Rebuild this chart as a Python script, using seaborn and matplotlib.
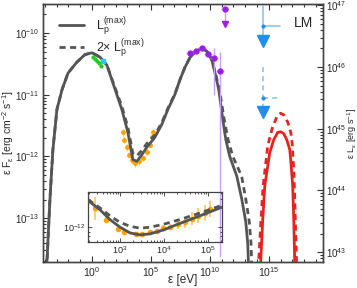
import numpy as np
import pandas as pd
import matplotlib
matplotlib.use("Agg")
import matplotlib.pyplot as plt
from matplotlib.ticker import FixedLocator, NullFormatter, LogLocator
import seaborn as sns

# ---- data (log10 values) ----
# main model curve, solid (L_p max) and dashed (2x L_p max)
model_logE = [-3.95, -3.81, -3.56, -3.31, -2.97, -2.54, -2.03, -1.27, -0.59, 0.0, 0.68, 1.27, 1.78,
              2.54, 3.05, 3.47, 3.81, 4.24, 4.66, 5.34, 5.93, 6.44, 7.03, 7.46, 7.88, 8.31, 8.73,
              9.15, 9.49, 9.83, 10.17, 10.42, 10.76, 11.10, 11.36, 11.69, 12.29, 12.71, 13.05,
              13.22, 13.32]
model_logF = [-14.0, -13.69, -12.69, -11.89, -11.24, -10.92, -10.65, -10.47, -10.35, -10.32, -10.39,
              -10.52, -10.81, -11.24, -11.61, -12.05, -12.08, -11.97, -11.85, -11.69, -11.48, -11.24,
              -11.0, -10.76, -10.56, -10.40, -10.31, -10.26, -10.26, -10.31, -10.44, -10.63, -10.92,
              -11.40, -11.73, -12.0, -12.32, -12.69, -13.06, -13.42, -14.0]
model2_logE = [-3.95, -3.81, -3.56, -3.31, -2.97, -2.54, -2.03, -1.27, -0.59, 0.0, 0.68, 1.27, 1.78,
               2.54, 3.05, 3.47, 3.81, 4.24, 4.66, 5.34, 5.93, 6.44, 7.03, 7.46, 7.88, 8.31, 8.73,
               9.15, 9.49, 9.83, 10.17, 10.45, 10.82, 11.22, 11.55, 11.95, 12.70, 13.05, 13.35,
               13.50, 13.58]
model2_logF = [-14.0, -13.69, -12.69, -11.89, -11.24, -10.92, -10.65, -10.47, -10.35, -10.32, -10.39,
               -10.52, -10.79, -11.19, -11.53, -11.95, -11.99, -11.90, -11.79, -11.65, -11.45, -11.22,
               -10.99, -10.76, -10.56, -10.40, -10.31, -10.26, -10.26, -10.31, -10.44, -10.63, -10.92,
               -11.40, -11.73, -12.0, -12.32, -12.69, -13.06, -13.42, -14.0]

# neutrino bump (red)
nu_logE = [14.20, 14.32, 14.49, 14.66, 15.08, 15.42, 15.76, 16.02, 16.27, 16.53, 16.78, 16.86, 17.03,
           17.12, 17.20, 17.25]
nu_logF = [-14.0, -13.69, -13.02, -12.48, -11.94, -11.73, -11.61, -11.60, -11.63, -11.73, -11.89,
           -12.05, -12.48, -13.02, -13.69, -14.0]
nu2_logE = [14.10, 14.15, 14.34, 14.52, 14.92, 15.30, 15.70, 16.00, 16.30, 16.62, 16.88, 16.98,
            17.13, 17.22, 17.32, 17.40]
nu2_logF = [-14.0, -13.69, -13.02, -12.48, -11.82, -11.54, -11.35, -11.30, -11.33, -11.45, -11.62,
            -11.78, -12.25, -12.80, -13.50, -14.0]

# observations
green_logE = [0.08, 0.25, 0.42, 0.59, 0.76]
green_logF = [-10.39, -10.42, -10.45, -10.48, -10.53]
cyan_logE = [0.93]
cyan_logF = [-10.45]
orange_logE = [2.63, 2.71, 2.97, 3.14, 3.39, 3.64, 3.98, 4.32, 4.66, 4.92, 5.08, 5.17]
orange_logF = [-11.61, -11.73, -11.85, -11.97, -12.06, -12.11, -12.08, -12.02, -11.92, -11.81,
               -11.69, -11.60]
purple_logE = [8.30, 8.81, 9.32, 9.83, 10.34, 10.85]
purple_logF = [-10.32, -10.29, -10.24, -10.34, -10.40, -10.61]
purple_lo = [-10.32, -10.29, -10.24, -10.34, -11.00, -13.63]
purple_hi = [-10.32, -10.29, -10.24, -10.34, -10.24, -10.31]
purple_ul_logE = [11.27]
purple_ul_logF = [-9.61]

# upper limits (blue)
ul_logE = [14.5]
ul_solid_logF = [-9.89]
ul_dash_logF = [-11.06]
ul_logE_hi = [15.93]

# inset data
ins_logE = [2.27, 2.55, 2.77, 3.0, 3.23, 3.45, 3.68, 3.98, 4.36, 4.82, 5.32]
ins_logF = [-11.72, -11.82, -11.92, -12.0, -12.06, -12.08, -12.07, -12.03, -11.96, -11.88, -11.79]
ins2_logF = [-11.71, -11.80, -11.88, -11.95, -11.99, -12.01, -12.0, -11.97, -11.92, -11.85, -11.77]
ins_obs_logE = [2.43, 2.68, 2.95, 3.09, 3.36, 3.50, 3.68, 3.84, 3.98, 4.14, 4.32, 4.48, 4.64,
                4.77, 4.93, 5.05]
ins_obs_logF = [-11.80, -11.92, -12.02, -12.05, -12.07, -12.07, -12.05, -12.04, -12.01, -12.0,
                -11.97, -11.95, -11.91, -11.88, -11.85, -11.81]
ins_obs_err = [0.12, 0.03, 0.03, 0.02, 0.02, 0.02, 0.02, 0.02, 0.03, 0.03, 0.05, 0.06, 0.07,
               0.08, 0.08, 0.08]

# axis ticks
xticks_main = [1e0, 1e5, 1e10, 1e15]
yticks_left = [1e-13, 1e-12, 1e-11, 1e-10]
yticks_right = [1e43, 1e44, 1e45, 1e46, 1e47]
xticks_inset = [1e3, 1e4, 1e5]

OFFSET = 56.55  # log10(4 pi d^2)

sns.set_style("ticks")
plt.rcParams['font.family'] = ['Liberation Sans', 'DejaVu Sans']
plt.rcParams['mathtext.fontset'] = 'custom'
plt.rcParams['mathtext.rm'] = 'Liberation Sans'
plt.rcParams['mathtext.it'] = 'Liberation Sans'
plt.rcParams['mathtext.default'] = 'regular'

GRAY = '#555555'
RED = '#e8231f'
BLUE = '#1e8ff0'
LBLUE = '#8cc4f5'
PURP = '#9a1ee6'
LPURP = '#cf9cf5'
ORANGE = '#ffa200'
LORANGE = '#ffc75a'


def p10(v):
    return 10 ** np.asarray(v, dtype=float)


fig = plt.figure(figsize=(3.57, 2.88), dpi=100)
ax = fig.add_axes([43 / 357, 26 / 288, 280 / 357, 258 / 288])
ax.set_xscale('log')
ax.set_yscale('log')

df1 = pd.DataFrame({'E': p10(model_logE), 'F': p10(model_logF)})
df2 = pd.DataFrame({'E': p10(model2_logE), 'F': p10(model2_logF)})
sns.lineplot(data=df1, x='E', y='F', ax=ax, color=GRAY, lw=2, sort=False,
             label=r'L$_p^{(max)}$', zorder=3)
sns.lineplot(data=df2, x='E', y='F', ax=ax, color=GRAY, lw=2, sort=False, ls=(0, (2.2, 1.6)),
             label=r'2$\times$ L$_p^{(max)}$', zorder=3)
sns.lineplot(x=p10(nu_logE), y=p10(nu_logF), ax=ax, color=RED, lw=2, sort=False, zorder=3)
sns.lineplot(x=p10(nu2_logE), y=p10(nu2_logF), ax=ax, color=RED, lw=2, sort=False,
             ls=(0, (2.2, 1.6)), zorder=3)

# observations
ax.errorbar(p10(orange_logE), p10(orange_logF), yerr=p10(orange_logF) * 0.12, fmt='o', ms=2.5,
            color=ORANGE, ecolor=LORANGE, elinewidth=1, capsize=0, zorder=2)
ax.errorbar(p10(green_logE), p10(green_logF), yerr=p10(green_logF) * 0.05, fmt='o', ms=2,
            color='#22cc22', ecolor='#66dd66', elinewidth=1, capsize=0, zorder=4)
ax.plot(p10(cyan_logE), p10(cyan_logF), 's', ms=3.5, color='#22ccee', zorder=4)

pE = p10(purple_logE)
pF = p10(purple_logF)
ax.errorbar(pE, pF, xerr=[pE - pE / 10 ** 0.35, pE * 10 ** 0.35 - pE],
            yerr=[pF - p10(purple_lo), p10(purple_hi) - pF], fmt='o', ms=3.5, color=PURP,
            ecolor=LPURP, elinewidth=1, capsize=0, zorder=4)
uE = p10(purple_ul_logE)
uF = p10(purple_ul_logF)
ax.errorbar(uE, uF, xerr=[uE - uE / 10 ** 0.3, uE * 10 ** 0.3 - uE], fmt='o', ms=3.5,
            color=PURP, ecolor=LPURP, elinewidth=1, zorder=4)
ax.plot([uE[0], uE[0]], [uF[0], uF[0] / 10 ** 0.2], color=LPURP, lw=1, zorder=3)
ax.plot(uE, uF / 10 ** 0.25, 'v', ms=5, color=PURP, zorder=4)

# blue upper limits
bx = p10(ul_logE)
bx_hi = p10(ul_logE_hi)
bs = p10(ul_solid_logF)
bd = p10(ul_dash_logF)
ax.plot([bx[0], bx[0]], [1e-9, bs[0] / 10 ** 0.22], color=LBLUE, lw=1.2, zorder=3)
ax.plot([bx[0], bx_hi[0]], [bs[0], bs[0]], color=LBLUE, lw=1.2, zorder=3)
ax.plot(bx, bs, 'o', ms=2, color=BLUE, zorder=4)
ax.plot(bx, bs / 10 ** 0.24, 'v', ms=8, color=BLUE, zorder=4)
ax.plot([bx[0], bx[0]], [bd[0] * 10 ** 0.51, bd[0] / 10 ** 0.18], color=LBLUE, lw=1.2,
        ls=(0, (3, 2.5)), zorder=3)
ax.plot([bx[0], bx_hi[0]], [bd[0], bd[0]], color=LBLUE, lw=1.2, ls=(0, (3, 2.5)), zorder=3)
ax.plot(bx, bd, 'o', ms=2, color=BLUE, zorder=4)
ax.plot(bx, bd / 10 ** 0.22, 'v', ms=8, color=BLUE, zorder=4)

ax.set_xlim(10 ** -4.15, 10 ** 19.6)
ax.set_ylim(10 ** -13.71, 10 ** -9.53)
ax.xaxis.set_major_locator(FixedLocator(xticks_main))
ax.xaxis.set_minor_locator(FixedLocator([10.0 ** k for k in range(-4, 20)]))
ax.xaxis.set_minor_formatter(NullFormatter())
ax.yaxis.set_major_locator(FixedLocator(yticks_left))
ax.yaxis.set_minor_locator(LogLocator(base=10, subs=np.arange(2, 10), numticks=20))
ax.yaxis.set_minor_formatter(NullFormatter())
ax.tick_params(which='both', direction='in', top=True, right=False, labelsize=7,
               color='#333333', width=0.8, pad=2.5)
ax.tick_params(axis='x', labelsize=7.5)
ax.tick_params(which='major', length=4)
ax.tick_params(which='minor', length=2)
ax.set_xlabel('ε [eV]', fontsize=8.5)
ax.xaxis.set_label_coords(0.5, -0.045)
ax.set_ylabel(r'ε F$_{ε}$ [erg cm$^{-2}$ s$^{-1}$]', fontsize=7.5)
ax.yaxis.set_label_coords(-0.098, 0.5)
for s in ax.spines.values():
    s.set_color('#444444')
    s.set_linewidth(1)

leg = ax.legend(loc='upper left', bbox_to_anchor=(0.03, 0.985), frameon=False, fontsize=9,
                handlelength=2.0, handletextpad=1.0, labelspacing=0.0, borderaxespad=0.2)
ax.text(0.965, 0.955, 'LM', transform=ax.transAxes, ha='right', va='top', fontsize=10)

ax2 = ax.twinx()
ax2.set_yscale('log')
ax2.set_ylim(10 ** (-13.71 + OFFSET), 10 ** (-9.53 + OFFSET))
ax2.yaxis.set_major_locator(FixedLocator(yticks_right))
ax2.yaxis.set_minor_locator(LogLocator(base=10, subs=np.arange(2, 10), numticks=20))
ax2.yaxis.set_minor_formatter(NullFormatter())
ax2.tick_params(which='both', direction='in', labelsize=7, color='#333333', width=0.8, pad=2)
ax2.tick_params(which='major', length=4)
ax2.tick_params(which='minor', length=2)
ax2.set_ylabel(r'ε L$_{ε}$ [erg s$^{-1}$]', fontsize=6.5, rotation=90)
ax2.yaxis.set_label_coords(1.078, 0.5)
for s in ax2.spines.values():
    s.set_color('#444444')
    s.set_linewidth(1)

# inset
axi = fig.add_axes([88 / 357, 46 / 288, 134 / 357, 50 / 288])
axi.set_facecolor('none')
axi.set_xscale('log')
axi.set_yscale('log')
sns.lineplot(x=p10(ins_logE), y=p10(ins_logF), ax=axi, color=GRAY, lw=2, sort=False, zorder=3)
sns.lineplot(x=p10(ins_logE), y=p10(ins2_logF), ax=axi, color=GRAY, lw=2, sort=False,
             ls=(0, (2.2, 1.6)), zorder=3)
iF = p10(ins_obs_logF)
ie = np.asarray(ins_obs_err)
axi.errorbar(p10(ins_obs_logE), iF, yerr=[iF - iF / 10 ** ie, iF * 10 ** ie - iF], fmt='o', ms=3,
             color=ORANGE, ecolor=LORANGE, elinewidth=1.2, capsize=0, zorder=2)
axi.set_xlim(10 ** 2.27, 10 ** 5.32)
axi.set_ylim(7e-13, 2.34e-12)
axi.xaxis.set_major_locator(FixedLocator(xticks_inset))
axi.xaxis.set_minor_locator(LogLocator(base=10, subs=np.arange(2, 10), numticks=20))
axi.xaxis.set_minor_formatter(NullFormatter())
axi.yaxis.set_major_locator(FixedLocator([1e-12]))
axi.yaxis.set_minor_locator(FixedLocator([8e-13, 9e-13, 2e-12]))
axi.yaxis.set_minor_formatter(NullFormatter())
axi.tick_params(which='both', direction='in', top=True, right=True, labelsize=6.5, pad=2,
                color='#333333', width=0.6)
axi.tick_params(which='major', length=3)
axi.tick_params(which='minor', length=1.5)
axi.set_xlabel('')
axi.set_ylabel('')
for s in axi.spines.values():
    s.set_color('#444444')
    s.set_linewidth(0.9)

fig.savefig('out.png', dpi=100)
